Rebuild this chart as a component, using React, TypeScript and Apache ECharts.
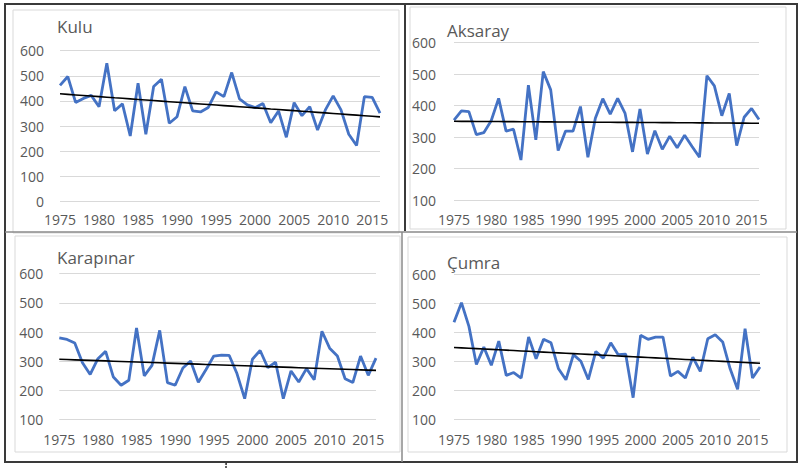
import React, { useEffect, useRef } from "react";
import * as echarts from "echarts";

const years = [
  "1975", "1976", "1977", "1978", "1979", "1980", "1981", "1982", "1983", "1984",
  "1985", "1986", "1987", "1988", "1989", "1990", "1991", "1992", "1993", "1994",
  "1995", "1996", "1997", "1998", "1999", "2000", "2001", "2002", "2003", "2004",
  "2005", "2006", "2007", "2008", "2009", "2010", "2011", "2012", "2013", "2014",
  "2015", "2016",
];

const kulu = [
  462, 497, 394, 410, 422, 377, 550, 361, 388, 260,
  470, 267, 457, 486, 311, 337, 457, 360, 356, 374,
  436, 417, 513, 408, 384, 373, 390, 313, 360, 255,
  393, 341, 377, 284, 364, 420, 364, 267, 222, 417,
  414, 351,
];

const aksaray = [
  354, 383, 381, 308, 314, 352, 423, 319, 325, 227,
  465, 291, 508, 450, 257, 319, 319, 397, 236, 360,
  422, 373, 423, 375, 253, 389, 246, 320, 261, 303,
  266, 306, 270, 236, 495, 463, 368, 439, 273, 363,
  391, 356,
];

const karapinar = [
  380, 375, 363, 295, 255, 309, 334, 246, 218, 235,
  414, 250, 286, 406, 227, 218, 277, 301, 228, 272,
  318, 321, 320, 258, 172, 307, 337, 278, 297, 172,
  267, 229, 275, 237, 403, 345, 318, 240, 227, 318,
  252, 311,
];

const cumra = [
  435, 503, 421, 289, 349, 286, 370, 251, 261, 242,
  384, 309, 376, 364, 274, 236, 323, 300, 237, 334,
  311, 364, 323, 325, 174, 390, 376, 384, 384, 249,
  265, 242, 314, 265, 378, 392, 367, 274, 203, 413,
  242, 280,
];

const stationNames = ["Kulu", "Aksaray", "Karapınar", "Çumra"];
const yMins = [0, 100, 100, 100];
const yMax = 600;
const yStep = 100;

function linearTrend(values: number[]): number[] {
  const n = values.length;
  let sx = 0, sy = 0, sxx = 0, sxy = 0;
  values.forEach((v, i) => {
    sx += i; sy += v; sxx += i * i; sxy += i * v;
  });
  const slope = (n * sxy - sx * sy) / (n * sxx - sx * sx);
  const intercept = (sy - slope * sx) / n;
  return values.map((_, i) => Math.round((intercept + slope * i) * 100) / 100);
}

const grids = [
  { left: 60, top: 50.7, width: 320, height: 150.6 },
  { left: 454, top: 42.7, width: 305, height: 157.3 },
  { left: 59.3, top: 273.7, width: 316.7, height: 146 },
  { left: 454, top: 274.7, width: 306, height: 144.3 },
];
const titlePos = [
  { left: 57, top: 18 },
  { left: 447, top: 22 },
  { left: 57, top: 249 },
  { left: 447, top: 254 },
];
const xLabelMargin = [11, 12, 13, 13];
const yLabelMargin = [16, 18, 16, 18];

const FONT = "'Open Sans', 'Noto Sans', sans-serif";
const LABEL_COLOR = "#595959";

export default function App() {
  const ref = useRef<HTMLDivElement>(null);

  useEffect(() => {
    if (!ref.current) return;
    const chart = echarts.init(ref.current, undefined, { renderer: "svg" });
    const allData = [kulu, aksaray, karapinar, cumra];

    const option: any = {
      animation: false,
      backgroundColor: "#ffffff",
      title: stationNames.map((name, i) => ({
        text: name,
        left: titlePos[i].left,
        top: titlePos[i].top,
        padding: 0,
        textStyle: {
          fontFamily: FONT,
          fontSize: 17,
          fontWeight: "normal",
          color: LABEL_COLOR,
        },
      })),
      grid: grids.map((g) => ({ ...g, containLabel: false })),
      xAxis: grids.map((_, i) => ({
        type: "category",
        gridIndex: i,
        data: years,
        boundaryGap: false,
        axisLine: { show: false },
        axisTick: { show: false },
        splitLine: { show: false },
        axisLabel: {
          interval: 4,
          margin: xLabelMargin[i],
          fontFamily: FONT,
          fontSize: 14,
          color: LABEL_COLOR,
        },
      })),
      yAxis: grids.map((_, i) => ({
        type: "value",
        gridIndex: i,
        min: yMins[i],
        max: yMax,
        interval: yStep,
        axisLine: { show: false },
        axisTick: { show: false },
        splitLine: { show: true, lineStyle: { color: "#d9d9d9", width: 1 } },
        axisLabel: {
          margin: yLabelMargin[i],
          fontFamily: FONT,
          fontSize: 14,
          color: LABEL_COLOR,
        },
      })),
      series: allData.flatMap((d, i) => [
        {
          type: "line",
          name: stationNames[i],
          xAxisIndex: i,
          yAxisIndex: i,
          data: d,
          showSymbol: false,
          symbol: "none",
          lineStyle: { color: "#4472c4", width: 2.8 },
          z: 2,
        },
        {
          type: "line",
          name: stationNames[i] + " trend",
          xAxisIndex: i,
          yAxisIndex: i,
          data: linearTrend(d),
          showSymbol: false,
          symbol: "none",
          lineStyle: { color: "#000000", width: 1.6 },
          z: 3,
        },
      ]),
      graphic: [
        { type: "rect", shape: { x: 13, y: 10, width: 386, height: 223 }, style: { fill: "none", stroke: "#d9d9d9", lineWidth: 1 }, silent: true },
        { type: "rect", shape: { x: 410, y: 7, width: 376, height: 222 }, style: { fill: "none", stroke: "#d9d9d9", lineWidth: 1 }, silent: true },
        { type: "rect", shape: { x: 15, y: 236, width: 385, height: 216 }, style: { fill: "none", stroke: "#d9d9d9", lineWidth: 1 }, silent: true },
        { type: "rect", shape: { x: 408, y: 237, width: 379, height: 215 }, style: { fill: "none", stroke: "#d9d9d9", lineWidth: 1 }, silent: true },
        { type: "rect", shape: { x: 5, y: 4, width: 792, height: 458 }, style: { fill: "none", stroke: "#3a3a3a", lineWidth: 2 }, silent: true },
        { type: "line", shape: { x1: 405, y1: 4, x2: 405, y2: 231 }, style: { stroke: "#3a3a3a", lineWidth: 2 }, silent: true },
        { type: "line", shape: { x1: 402, y1: 232, x2: 402, y2: 462 }, style: { stroke: "#8a8a8a", lineWidth: 1.5 }, silent: true },
        { type: "line", shape: { x1: 5, y1: 232, x2: 797, y2: 232 }, style: { stroke: "#8a8a8a", lineWidth: 1.5 }, silent: true },
        { type: "circle", shape: { cx: 226, cy: 464, r: 1 }, style: { fill: "#333333" }, silent: true },
        { type: "line", shape: { x1: 226, y1: 466, x2: 226, y2: 468 }, style: { stroke: "#333333", lineWidth: 1.5 }, silent: true },
      ],
    };

    chart.setOption(option);
    return () => {
      chart.dispose();
    };
  }, []);

  return (
    <div
      ref={ref}
      style={{ position: "fixed", left: 0, top: 0, width: 800, height: 468 }}
    />
  );
}
